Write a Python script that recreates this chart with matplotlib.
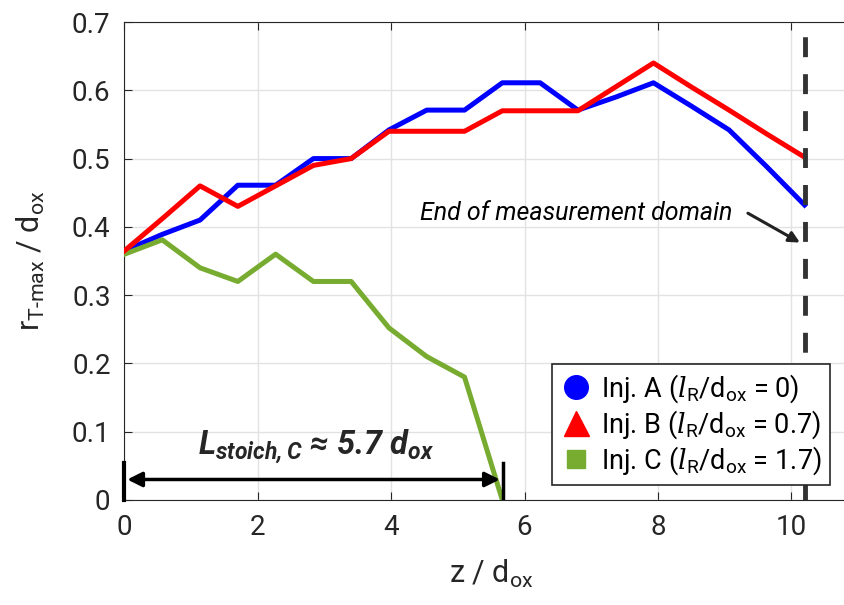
import numpy as np
import matplotlib.pyplot as plt
from matplotlib.lines import Line2D

plt.rcParams['font.family'] = ['Roboto', 'DejaVu Sans']
plt.rcParams['mathtext.fontset'] = 'custom'
plt.rcParams['mathtext.rm'] = 'Roboto'
plt.rcParams['mathtext.sf'] = 'Roboto'
plt.rcParams['mathtext.it'] = 'DejaVu Serif:italic'
plt.rcParams['mathtext.bfit'] = 'Roboto:italic:bold'

# Daten (z / d_ox)
z = np.linspace(0, 10.2, 19)
inj_a = [0.365, 0.389, 0.41, 0.461, 0.461, 0.50, 0.50, 0.542, 0.571, 0.571,
         0.611, 0.611, 0.571, 0.59, 0.611, 0.577, 0.542, 0.488, 0.432]
inj_b = [0.365, 0.412, 0.46, 0.43, 0.46, 0.49, 0.50, 0.54, 0.54, 0.54,
         0.57, 0.57, 0.57, 0.605, 0.64, 0.605, 0.571, 0.536, 0.502]
z_c = z[:11]
inj_c = [0.36, 0.381, 0.34, 0.32, 0.36, 0.32, 0.32, 0.252, 0.21, 0.18, 0.0]
l_stoich = 5.67
z_end = 10.2

labels = [r'Inj. A ($l_{\mathrm{R}}$/d$_{\mathsf{ox}}$ = 0)',
          r'Inj. B ($l_{\mathrm{R}}$/d$_{\mathsf{ox}}$ = 0.7)',
          r'Inj. C ($l_{\mathrm{R}}$/d$_{\mathsf{ox}}$ = 1.7)']
c_a, c_b, c_c = '#0000ff', '#ff0000', '#77ac30'

fig = plt.figure(figsize=(8.44, 6.05), dpi=100)
ax = fig.add_axes([0.1475, 0.1736, 0.869, 0.79])

ax.plot(z, inj_a, color=c_a, lw=3.6, zorder=3)
ax.plot(z, inj_b, color=c_b, lw=3.6, zorder=4)
ax.plot(z_c, inj_c, color=c_c, lw=3.6, zorder=3)
ax.axvline(z_end, color='#333333', lw=3.5, dashes=(4.1, 3.5), zorder=5)

ax.set_xlim(0, 11)
ax.set_ylim(0, 0.7)
ax.set_xticks([0, 2, 4, 6, 8, 10])
ax.set_yticks(np.arange(0, 0.71, 0.1))
ax.set_yticklabels(['0', '0.1', '0.2', '0.3', '0.4', '0.5', '0.6', '0.7'])
ax.grid(True, color='#e2e2e2', lw=1)
ax.set_axisbelow(True)
ax.tick_params(direction='in', top=True, right=True, labelsize=20,
               length=6, colors='#262626', pad=10)
for s in ax.spines.values():
    s.set_color('#262626')
ax.spines['right'].set_visible(False)

ax.set_xlabel(r'z / d$_{\mathsf{ox}}$', fontsize=22, color='#262626', labelpad=12)
ax.set_ylabel(r'r$_{\mathsf{T\text{-}max}}$ / d$_{\mathsf{ox}}$', fontsize=22,
              color='#262626', labelpad=18)

# Länge bis zur Stöchiometrie
ax.annotate('', xy=(0, 0.03), xytext=(l_stoich, 0.03),
            arrowprops=dict(arrowstyle='<|-|>', color='black', lw=2.5,
                            mutation_scale=22), zorder=6)
ax.plot([0, 0], [0, 0.054], color='black', lw=3, zorder=6, clip_on=False)
ax.plot([l_stoich, l_stoich], [0, 0.054], color='black', lw=2.5, zorder=6)
ax.text(2.88, 0.078, r'L$_{\mathbfit{stoich,C}}$ ≈ 5.7 d$_{\mathbfit{ox}}$',
        fontsize=23.5, fontweight='bold', style='italic', ha='center',
        va='center', color='#262626')

ax.text(9.12, 0.42, 'End of measurement domain', ha='right', va='center',
        fontsize=18, style='italic', color='black')
ax.annotate('', xy=(10.13, 0.377), xytext=(9.35, 0.42),
            arrowprops=dict(arrowstyle='-|>', color='#222222', lw=2.2,
                            mutation_scale=16, shrinkA=0, shrinkB=0))

handles = [Line2D([], [], ls='none', marker='o', ms=17, color=c_a),
           Line2D([], [], ls='none', marker='^', ms=18, color=c_b),
           Line2D([], [], ls='none', marker='s', ms=13, color=c_c)]
leg = ax.legend(handles, labels, loc='upper left',
                bbox_to_anchor=(552 / 844, 1 - 364 / 605),
                bbox_transform=fig.transFigure, borderaxespad=0,
                fontsize=19.5, fancybox=False, framealpha=1,
                handletextpad=0.3, handlelength=1.2, labelspacing=0.12,
                borderpad=0.3)
leg.get_frame().set_edgecolor('#262626')
leg.get_frame().set_linewidth(1.2)

fig.savefig('out.png', dpi=100)
